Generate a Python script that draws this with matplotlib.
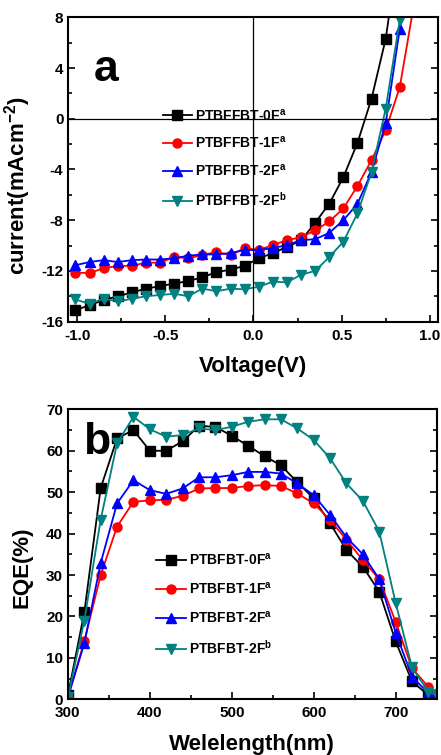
import numpy as np
import matplotlib
matplotlib.use('Agg')
import matplotlib.pyplot as plt
from matplotlib.ticker import MultipleLocator

plt.rcParams['font.family'] = ['Liberation Sans', 'DejaVu Sans']
plt.rcParams['font.weight'] = 'bold'
plt.rcParams['axes.unicode_minus'] = False
plt.rcParams['mathtext.fontset'] = 'custom'
plt.rcParams['mathtext.rm'] = 'Liberation Sans:bold'
plt.rcParams['mathtext.it'] = 'Liberation Sans:bold'
plt.rcParams['mathtext.bf'] = 'Liberation Sans:bold'

# J-V data (voltage every 0.08 V), last points run off the top of the plot
voltage = np.round(-1.01 + 0.08 * np.arange(25), 3)
jv_0F = [-15.1, -14.7, -14.3, -14.0, -13.7, -13.4, -13.2, -13.0, -12.8, -12.5, -12.1, -11.9,
         -11.6, -11.0, -10.6, -10.1, -9.6, -8.2, -6.7, -4.6, -1.9, 1.6, 6.3, 14.0]
jv_1F = [-12.15, -12.15, -11.8, -11.6, -11.6, -11.35, -11.35, -10.9, -11.0, -10.75, -10.5, -10.75,
         -10.2, -10.35, -9.96, -9.57, -9.35, -8.8, -8.1, -7.07, -5.3, -3.25, -0.9, 2.5, 9.0]
jv_2Fa = [-11.55, -11.3, -11.15, -11.3, -11.15, -11.1, -11.1, -11.0, -10.8, -10.7, -10.7, -10.6,
          -10.35, -10.35, -10.2, -9.96, -9.57, -9.5, -9.0, -8.0, -6.7, -4.2, -0.35, 7.1, 16.0]
jv_2Fb = [-14.25, -14.6, -14.2, -14.4, -14.2, -14.0, -13.9, -13.8, -14.0, -13.4, -13.6, -13.4,
          -13.45, -13.25, -12.85, -12.9, -12.3, -12.0, -10.9, -9.7, -7.45, -4.2, 0.8, 7.8, 16.0]
jv_labels = ['PTBFFBT-0F$^{a}$', 'PTBFFBT-1F$^{a}$', 'PTBFFBT-2F$^{a}$', 'PTBFFBT-2F$^{b}$']

# EQE data
wavelength = [300, 320, 340, 360, 380, 400, 420, 440, 460, 480, 500, 520, 540, 560, 580,
              600, 620, 640, 660, 680, 700, 720, 740, 750]
eqe_0F = [1, 21, 51, 63, 65, 60, 60, 62.3, 66, 65.8, 63.6, 61.2, 58.7, 56.5, 52.4,
          48.5, 42.5, 36, 32, 26, 14, 4.3, 1, 0.5]
eqe_1F = [0.5, 14, 30, 41.7, 47.7, 48, 48.2, 49.1, 50.9, 51, 51, 51.5, 51.7, 51.5, 49.7,
          47.3, 43.3, 38.5, 33.6, 29, 18.7, 7.5, 3, 1.5]
eqe_2Fa = [0.5, 13.5, 32.9, 47.3, 52.9, 50.5, 49.6, 50.9, 53.6, 53.6, 54.1, 54.9, 54.9, 54.5, 52.1,
           49.3, 44.5, 39.1, 35, 29, 16.1, 5.5, 1.4, 0.5]
eqe_2Fb = [0.5, 19, 43.4, 61.8, 68.2, 65.2, 63.4, 63.8, 65.4, 65, 65.8, 67, 67.6, 67.6, 65.4,
           62.6, 58.2, 52.1, 47.9, 40.5, 23.3, 7.7, 1.8, 1]
eqe_labels = ['PTBFBT-0F$^{a}$', 'PTBFBT-1F$^{a}$', 'PTBFBT-2F$^{a}$', 'PTBFBT-2F$^{b}$']

colors = ['black', '#ff0000', '#0000ff', '#008080']
markers = ['s', 'o', '^', 'v']

fig = plt.figure(figsize=(4.41, 7.55), dpi=100)
ax1 = fig.add_axes([0.155, 0.574, 0.8375, 0.403])
ax2 = fig.add_axes([0.154, 0.0738, 0.836, 0.384])

# panel a
jv_series = [jv_0F, jv_1F, jv_2Fa, jv_2Fb]
for j, c, m, lab in zip(jv_series, colors, markers, jv_labels):
    ax1.plot(voltage[:len(j)], j, color=c, marker=m, markersize=6.5, lw=1.3, label=lab)
ax1.axhline(0, color='black', lw=0.9)
ax1.axvline(0, color='black', lw=0.9)
ax1.set_xlim(-1.05, 1.045)
ax1.set_ylim(-16, 8)
ax1.xaxis.set_major_locator(MultipleLocator(0.5))
ax1.xaxis.set_minor_locator(MultipleLocator(0.25))
ax1.yaxis.set_major_locator(MultipleLocator(4))
ax1.yaxis.set_minor_locator(MultipleLocator(2))
ax1.set_xlabel('Voltage(V)', fontsize=16, fontweight='bold', labelpad=10)
ax1.set_ylabel('current(mAcm$^{-2}$)', fontsize=16, fontweight='bold')
ax1.yaxis.set_label_coords(-0.095, 0.446)
ax1.text(0.07, 0.83, 'a', transform=ax1.transAxes, fontsize=32, fontweight='bold',
         va='center', ha='left')
ax1.legend(loc='upper left', bbox_to_anchor=(0.255, 0.705), frameon=False, fontsize=10,
           handlelength=2.1, handletextpad=0.25, labelspacing=0.85, borderpad=0,
           borderaxespad=0)

# panel b
eqe_series = [eqe_0F, eqe_1F, eqe_2Fa, eqe_2Fb]
for e, c, m, lab in zip(eqe_series, colors, markers, eqe_labels):
    ax2.plot(wavelength, e, color=c, marker=m, markersize=6.5, lw=1.3, label=lab)
ax2.set_xlim(300, 750)
ax2.set_ylim(0, 70)
ax2.xaxis.set_major_locator(MultipleLocator(100))
ax2.xaxis.set_minor_locator(MultipleLocator(50))
ax2.yaxis.set_major_locator(MultipleLocator(10))
ax2.yaxis.set_minor_locator(MultipleLocator(5))
ax2.set_xlabel('Welelength(nm)', fontsize=16, fontweight='bold', labelpad=10)
ax2.set_ylabel('EQE(%)', fontsize=16, fontweight='bold')
ax2.yaxis.set_label_coords(-0.095, 0.455)
ax2.text(0.04, 0.885, 'b', transform=ax2.transAxes, fontsize=32, fontweight='bold',
         va='center', ha='left')
ax2.legend(loc='upper left', bbox_to_anchor=(0.24, 0.51), frameon=False, fontsize=10,
           handlelength=2.1, handletextpad=0.25, labelspacing=0.95, borderpad=0,
           borderaxespad=0)

for ax in (ax1, ax2):
    for s in ax.spines.values():
        s.set_linewidth(1.5)
    ax.tick_params(which='both', direction='in', right=True, top=False, labelsize=11,
                   width=1.2)
    ax.tick_params(which='major', length=5)
    ax.tick_params(which='minor', length=3)
    ax.tick_params(axis='x', pad=5)
    for lbl in ax.get_xticklabels() + ax.get_yticklabels():
        lbl.set_fontweight('bold')

fig.savefig('out.png', dpi=100)
